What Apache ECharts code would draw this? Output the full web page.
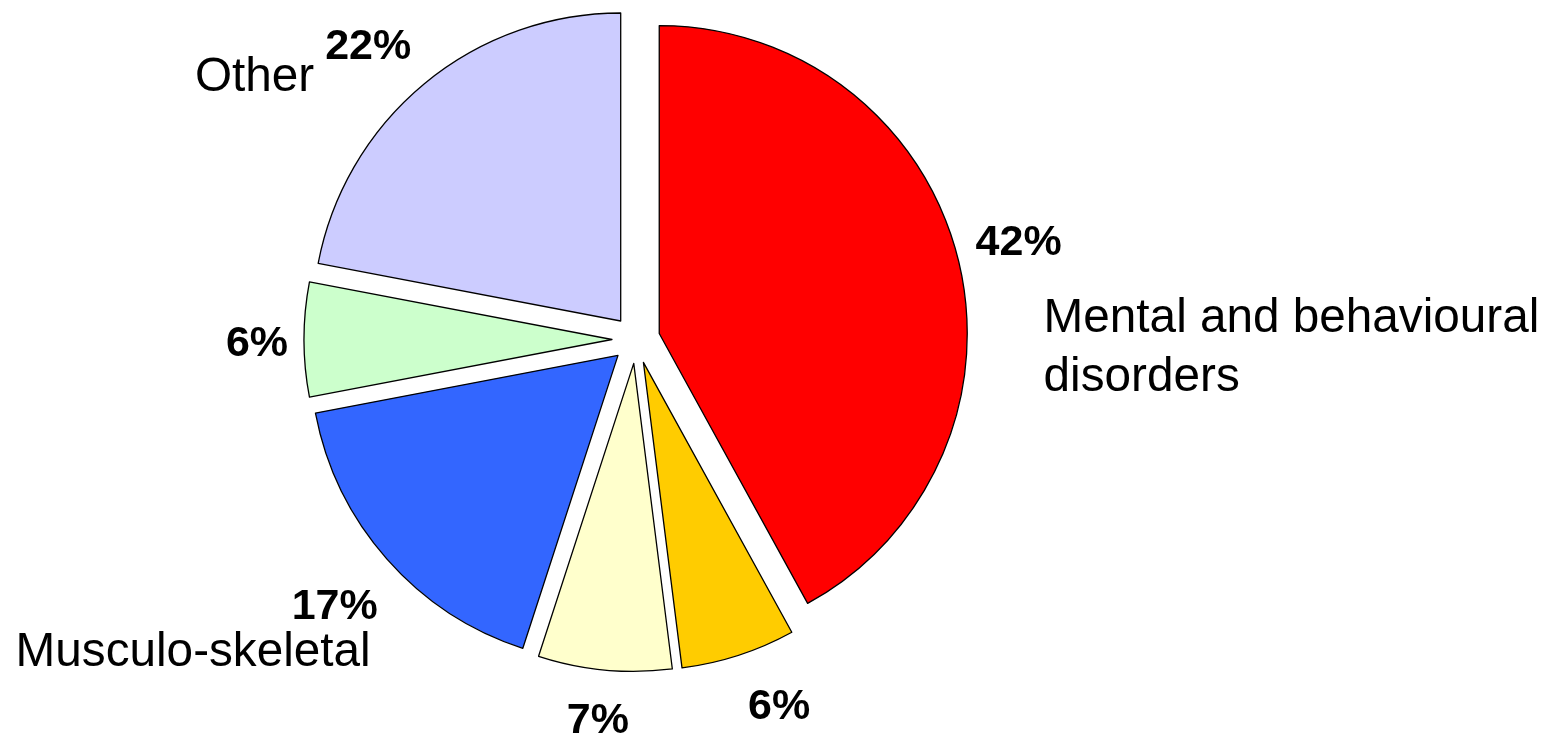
<!DOCTYPE html>
<html><head><meta charset="utf-8">
<script src="https://cdn.jsdelivr.net/npm/echarts@6/dist/echarts.min.js"></script>
<style>html,body{margin:0;padding:0;background:#fff}#c{width:1543px;height:735px}</style>
</head><body><div id="c"></div>
<script>
// ---- data ----
const categories = ['Mental and behavioural\ndisorders', '', '', 'Musculo-skeletal', '', 'Other'];
const values = [42, 6, 7, 17, 6, 22];

// ---- style ----
const colors = ['#FF0000', '#FFCC00', '#FFFFCC', '#3366FF', '#CCFFCC', '#CCCCFF'];
const pctNudge = [[0, 2], [21, -8], [-1, -12], [-5, 6], [16, 5], [-16, 12]];
const nameNudge = [[25, 107, 'left'], [0, 0, 'center'], [0, 0, 'center'], [31, 52, 'right'], [0, 0, 'center'], [-70, 43, 'right']];
const CENTER = [636, 339.5];
const R = 308;
const FONT = "'Liberation Sans', Arial, sans-serif";

const chart = echarts.init(document.getElementById('c'), null, { renderer: 'canvas' });

const mainData = values.map((v, i) => ({
  name: categories[i], value: v, selected: true,
  itemStyle: { color: colors[i] }
}));
const ghostData = values.map((v, i) => ({
  name: categories[i], value: v,
  itemStyle: { color: 'rgba(0,0,0,0)', borderWidth: 0 }
}));

chart.setOption({
  animation: false,
  backgroundColor: '#ffffff',
  series: [
    {
      type: 'pie', center: CENTER, radius: R, startAngle: 90, clockwise: true,
      selectedMode: 'multiple', selectedOffset: 24,
      data: mainData,
      label: { show: false }, labelLine: { show: false },
      itemStyle: { borderColor: '#000', borderWidth: 1.3 },
      select: { itemStyle: { borderColor: '#000', borderWidth: 1.3 } },
      emphasis: { disabled: true },
      silent: true
    },
    {
      type: 'pie', center: CENTER, radius: [372, 412], startAngle: 90, clockwise: true,
      data: ghostData, silent: true,
      emphasis: { disabled: true },
      labelLine: { show: false },
      label: {
        show: true, position: 'inside',
        formatter: p => values[p.dataIndex] + '%',
        fontSize: 43, fontWeight: 'bold', color: '#000', fontFamily: FONT,
        textBorderWidth: 0
      },
      labelLayout: p => ({ dx: pctNudge[p.dataIndex][0], dy: pctNudge[p.dataIndex][1] })
    },
    {
      type: 'pie', center: CENTER, radius: [372, 412], startAngle: 90, clockwise: true,
      data: ghostData, silent: true,
      emphasis: { disabled: true },
      labelLine: { show: false },
      label: {
        show: true, position: 'inside',
        formatter: p => categories[p.dataIndex],
        fontSize: 47.7, lineHeight: 59, fontWeight: 'normal', color: '#000', fontFamily: FONT,
        textBorderWidth: 0
      },
      labelLayout: p => ({
        dx: nameNudge[p.dataIndex][0], dy: nameNudge[p.dataIndex][1],
        align: nameNudge[p.dataIndex][2]
      })
    }
  ]
});
</script>
</body></html>
